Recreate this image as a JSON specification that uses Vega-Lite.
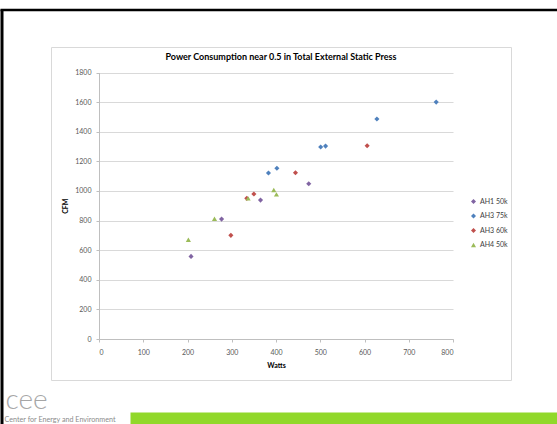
{
  "$schema": "https://vega.github.io/schema/vega-lite/v6.json",
  "width": 460,
  "height": 333,
  "autosize": {"type": "none"},
  "padding": {"left": 51, "top": 47, "right": 46, "bottom": 44},
  "background": "white",
  "title": {
    "text": "Power Consumption near 0.5 in Total External Static Press",
    "anchor": "middle",
    "frame": "group",
    "font": "Lato",
    "fontSize": 9,
    "fontWeight": "bold",
    "color": "#000000",
    "baseline": "middle",
    "offset": 0,
    "dy": 56
  },
  "data": {
    "values": [
      {"Series": "AH1 50k", "Watts": 208, "CFM": 558},
      {"Series": "AH1 50k", "Watts": 277, "CFM": 810},
      {"Series": "AH1 50k", "Watts": 365, "CFM": 938},
      {"Series": "AH1 50k", "Watts": 474, "CFM": 1049},
      {"Series": "AH3 75k", "Watts": 383, "CFM": 1121},
      {"Series": "AH3 75k", "Watts": 402, "CFM": 1153},
      {"Series": "AH3 75k", "Watts": 501, "CFM": 1297},
      {"Series": "AH3 75k", "Watts": 512, "CFM": 1303},
      {"Series": "AH3 75k", "Watts": 628, "CFM": 1486},
      {"Series": "AH3 75k", "Watts": 762, "CFM": 1600},
      {"Series": "AH3 60k", "Watts": 298, "CFM": 700},
      {"Series": "AH3 60k", "Watts": 334, "CFM": 950},
      {"Series": "AH3 60k", "Watts": 350, "CFM": 979},
      {"Series": "AH3 60k", "Watts": 444, "CFM": 1123},
      {"Series": "AH3 60k", "Watts": 606, "CFM": 1305},
      {"Series": "AH4 50k", "Watts": 202, "CFM": 670},
      {"Series": "AH4 50k", "Watts": 261, "CFM": 812},
      {"Series": "AH4 50k", "Watts": 337, "CFM": 950},
      {"Series": "AH4 50k", "Watts": 395, "CFM": 1006},
      {"Series": "AH4 50k", "Watts": 401, "CFM": 977}
    ]
  },
  "layer": [
    {
      "mark": {"type": "point", "filled": true, "size": 26, "opacity": 1},
      "encoding": {
        "x": {
          "field": "Watts",
          "type": "quantitative",
          "scale": {"domain": [0, 800], "range": [48, 402], "nice": false},
          "axis": {
            "orient": "bottom",
            "title": "Watts",
            "values": [0, 100, 200, 300, 400, 500, 600, 700, 800],
            "format": "d",
            "grid": false,
            "offset": -41,
            "domainColor": "#BFBFBF",
            "tickColor": "#BFBFBF",
            "tickSize": 3,
            "labelFont": "Lato",
            "labelFontSize": 7,
            "labelColor": "#595959",
            "labelPadding": 6,
            "titleFont": "Lato",
            "titleFontSize": 7,
            "titleFontWeight": "bold",
            "titleColor": "#000000",
            "titlePadding": 6
          }
        },
        "y": {
          "field": "CFM",
          "type": "quantitative",
          "scale": {"domain": [0, 1800], "range": [292, 25.5], "nice": false},
          "axis": {
            "orient": "left",
            "title": "CFM",
            "values": [0, 200, 400, 600, 800, 1000, 1200, 1400, 1600, 1800],
            "format": "d",
            "grid": true,
            "gridColor": "#D9D9D9",
            "offset": -48,
            "domainColor": "#BFBFBF",
            "tickColor": "#BFBFBF",
            "tickSize": 3,
            "labelFont": "Lato",
            "labelFontSize": 7,
            "labelColor": "#595959",
            "labelPadding": 5,
            "titleFont": "Lato",
            "titleFontSize": 7,
            "titleFontWeight": "bold",
            "titleColor": "#000000",
            "titlePadding": 6
          }
        },
        "color": {
          "field": "Series",
          "type": "nominal",
          "scale": {
            "domain": ["AH1 50k", "AH3 75k", "AH3 60k", "AH4 50k"],
            "range": ["#8064A2", "#4F81BD", "#C0504D", "#9BBB59"]
          },
          "legend": {
            "title": null,
            "orient": "none",
            "legendX": 419,
            "legendY": 151,
            "padding": 0,
            "labelFont": "Lato",
            "labelFontSize": 7,
            "labelColor": "#404040",
            "symbolSize": 25,
            "rowPadding": 6.5,
            "labelOffset": 3
          }
        },
        "shape": {
          "field": "Series",
          "type": "nominal",
          "scale": {
            "domain": ["AH1 50k", "AH3 75k", "AH3 60k", "AH4 50k"],
            "range": ["diamond", "diamond", "diamond", "triangle-up"]
          }
        }
      }
    },
    {
      "mark": {"type": "point", "opacity": 0},
      "encoding": {
        "x": {
          "field": "Watts",
          "type": "quantitative",
          "scale": {"domain": [0, 800], "range": [79, 506], "nice": false},
          "axis": {
            "orient": "bottom",
            "offset": 38,
            "domainColor": "#91D82A",
            "domainWidth": 12,
            "domainCap": "butt",
            "ticks": false,
            "labels": false,
            "grid": false,
            "title": "Center for Energy and Environment",
            "titleX": -47,
            "titleY": 1.5,
            "titleAlign": "left",
            "titleBaseline": "middle",
            "titleAnchor": null,
            "titleFont": "Lato",
            "titleFontSize": 7.2,
            "titleFontWeight": "normal",
            "titleColor": "#8C8C8C"
          }
        },
        "y": {
          "field": "CFM",
          "type": "quantitative",
          "scale": {"domain": [0, 1800], "range": [377, -38], "nice": false},
          "axis": {
            "orient": "left",
            "offset": 49.5,
            "domainColor": "#000000",
            "domainWidth": 3,
            "domainCap": "butt",
            "ticks": false,
            "labels": false,
            "grid": false,
            "title": "cee",
            "titleAngle": 0,
            "titleX": 3.5,
            "titleY": 361,
            "titleAlign": "left",
            "titleBaseline": "alphabetic",
            "titleFont": "Lato",
            "titleFontSize": 28,
            "titleFontWeight": 300,
            "titleColor": "#A6A6A6"
          }
        }
      }
    },
    {
      "mark": {"type": "point", "opacity": 0},
      "encoding": {
        "x": {
          "field": "Watts",
          "type": "quantitative",
          "scale": {"domain": [0, 800], "range": [-51, 506], "nice": false},
          "axis": {
            "orient": "top",
            "offset": 37.5,
            "domainColor": "#000000",
            "domainWidth": 2.5,
            "domainCap": "butt",
            "ticks": false,
            "labels": false,
            "grid": false,
            "title": null
          }
        }
      }
    }
  ],
  "resolve": {
    "scale": {"x": "independent", "y": "independent"},
    "axis": {"x": "independent", "y": "independent"}
  },
  "config": {
    "view": {"stroke": "#D9D9D9", "strokeWidth": 1}
  }
}
